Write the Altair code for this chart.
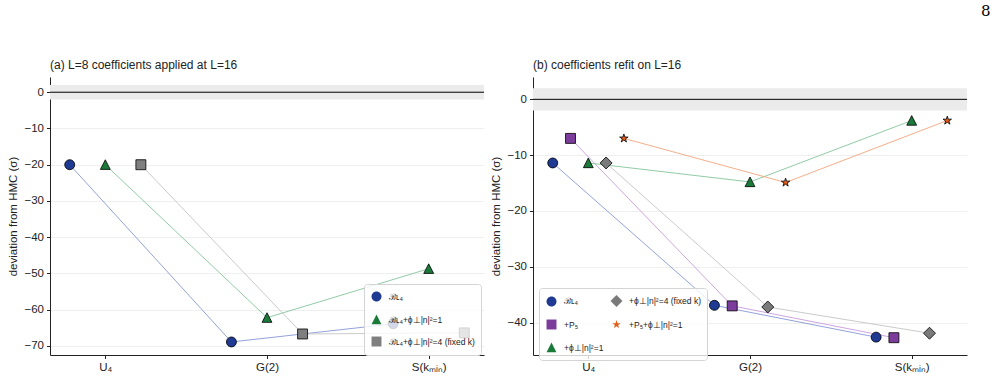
import json

import altair as alt
import pandas as pd

FONT = "Liberation Sans"
INK = "#222222"

# Observables along the x axis
categories = ["U₄", "G(2)", "S(kₘᵢₙ)"]
X_MIN, X_MAX = -0.342, 2.342
BAND = 2.0  # ±2σ agreement band around HMC

# Marker outlines in a [-1, 1] box (scaled by sqrt(size)/2)
CIRCLE = "M-0.83,0A0.83,0.83 0 1,0 0.83,0A0.83,0.83 0 1,0 -0.83,0Z"
SQUARE = "M-0.83,-0.83L0.83,-0.83L0.83,0.83L-0.83,0.83Z"
TRIANGLE = "M0,-0.82L0.82,0.78L-0.82,0.78Z"
DIAMOND = "M0,-1L1,0L0,1L-1,0Z"
STAR = ("M0,-0.74L0.166,-0.229L0.704,-0.229L0.269,0.087L0.435,0.599L0,0.283"
        "L-0.435,0.599L-0.269,0.087L-0.704,-0.229L-0.166,-0.229Z")

# (a) L=8 coefficients applied at L=16
a_names = ["ℬʟ₄", "ℬʟ₄+ϕ⊥|n|²=1", "ℬʟ₄+ϕ⊥|n|²=4 (fixed k)"]
a_base = [-20.0, -68.9, -63.9]
a_phi1 = [-20.0, -62.2, -48.7]
a_phi4 = [-20.0, -66.7, -66.4]
a_offsets = [-0.22, 0.0, 0.22]
a_fills = ["#1f3a93", "#1a7a3a", "#7f7f7f"]
a_lines = ["#8797d6", "#85c59c", "#c4c4c4"]
a_shapes = [CIRCLE, TRIANGLE, SQUARE]

# (b) coefficients refit on L=16
b_names = ["ℬʟ₄", "+P₅", "+ϕ⊥|n|²=1", "+ϕ⊥|n|²=4 (fixed k)", "+P₅+ϕ⊥|n|²=1"]
b_base = [-11.4, -36.9, -42.6]
b_p5 = [-7.0, -37.0, -42.7]
b_phi1 = [-11.4, -14.8, -3.8]
b_phi4 = [-11.4, -37.2, -41.9]
b_p5phi1 = [-7.0, -14.9, -3.8]
b_offsets = [-0.22, -0.11, 0.0, 0.11, 0.22]
b_fills = ["#1f3a93", "#7b3c9c", "#1a7a3a", "#7a7a7a", "#e35b14"]
b_lines = ["#8797d6", "#c79bdc", "#85c59c", "#c4c4c4", "#f3a57c"]
b_shapes = [CIRCLE, SQUARE, TRIANGLE, DIAMOND, STAR]

LABEL_EXPR = json.dumps(categories) + "[datum.value]"


def frame(names, series, offsets):
    rows = []
    for k, (name, vals, off) in enumerate(zip(names, series, offsets)):
        for i, v in enumerate(vals):
            rows.append({"series": name, "trace": k, "x": i + off, "y": v})
    return pd.DataFrame(rows)


def panel(df, names, fills, lines, shapes, title, ydom, yticks, lx, ly, columns):
    xenc = alt.X("x:Q", scale=alt.Scale(domain=[X_MIN, X_MAX], nice=False, zero=False),
                 axis=alt.Axis(values=[0, 1, 2], labelExpr=LABEL_EXPR, title=None,
                               grid=False, labelPadding=3, labelOverlap=False))
    yenc = alt.Y("y:Q", scale=alt.Scale(domain=ydom, nice=False, zero=False),
                 axis=alt.Axis(values=yticks, title="deviation from HMC  (σ)",
                               grid=True, format="d", titlePadding=5, labelPadding=3,
                               labelOverlap=False))

    legend_kw = dict(
        title=None, orient="none", legendX=lx, legendY=ly,
        fillColor="rgba(255,255,255,0.8)", strokeColor="#d4d4d4", cornerRadius=3,
        padding=6, labelFont=FONT, labelFontSize=8.5, labelColor=INK, labelLimit=300,
        symbolSize=144, symbolStrokeColor="black", symbolStrokeWidth=0.8,
        symbolOpacity=1, rowPadding=8, columnPadding=4, labelOffset=6,
    )
    if columns > 1:
        legend_kw["columns"] = columns
    legend = alt.Legend(**legend_kw)

    band_df = pd.DataFrame({"x": [X_MIN], "x2": [X_MAX], "y": [BAND], "y2": [-BAND]})
    zero_df = pd.DataFrame({"y": [0.0]})

    band = alt.Chart(band_df).mark_rect(color="#ebebeb").encode(
        x=xenc, x2="x2:Q", y=yenc, y2="y2:Q"
    )
    zero = alt.Chart(zero_df).mark_rule(color="black", strokeWidth=1).encode(y=yenc)
    # connecting lines are keyed on the trace index so they keep their own palette
    line = alt.Chart(df).mark_line(strokeWidth=0.9).encode(
        x=xenc, y=yenc,
        stroke=alt.Stroke("trace:N", scale=alt.Scale(domain=list(range(len(names))),
                                                     range=lines),
                          legend=None),
    )
    pts = alt.Chart(df).mark_point(
        filled=True, size=144, stroke="black", strokeWidth=0.8, opacity=1
    ).encode(
        x=xenc, y=yenc,
        fill=alt.Fill("series:N", scale=alt.Scale(domain=names, range=fills),
                      legend=legend),
        shape=alt.Shape("series:N", scale=alt.Scale(domain=names, range=shapes),
                        legend=legend),
    )
    return alt.layer(band, zero, line, pts).properties(
        width=434, height=278,
        title=alt.TitleParams(title, anchor="start", frame="group", font=FONT,
                              fontSize=12, fontWeight="normal", color=INK, offset=5),
    )


left = panel(
    frame(a_names, [a_base, a_phi1, a_phi4], a_offsets),
    a_names, a_fills, a_lines, a_shapes,
    "(a)  L=8 coefficients applied at L=16",
    [-72.5, 4.2], [0, -10, -20, -30, -40, -50, -60, -70],
    314, 207, 1,
)
right = panel(
    frame(b_names, [b_base, b_p5, b_phi1, b_phi4, b_p5phi1], b_offsets),
    b_names, b_fills, b_lines, b_shapes,
    "(b)  coefficients refit on L=16",
    [-45.8, 4.0], [0, -10, -20, -30, -40],
    6, 211, 2,
)

chart = (
    alt.hconcat(left, right, spacing=5)
    .resolve_scale(x="independent", y="independent", fill="independent",
                   shape="independent", stroke="independent")
    .resolve_legend(fill="independent", shape="independent")
    .properties(
        title=alt.TitleParams("8", anchor="end", font="DejaVu Serif", fontSize=15,
                              fontWeight="normal", color="black", dx=23, offset=40),
        padding={"left": 7, "top": 4, "right": 5, "bottom": 2},
    )
    .configure_view(stroke=None)
    .configure_axis(
        domainColor=INK, domainWidth=1, tickColor=INK, tickSize=3.5, tickWidth=1,
        labelFont=FONT, labelFontSize=11.5, labelColor=INK,
        titleFont=FONT, titleFontSize=11.5, titleFontWeight="normal", titleColor=INK,
        gridColor="#efefef", gridWidth=1,
    )
)

chart.save("out.html", embed_options={"renderer": "svg", "actions": False})
